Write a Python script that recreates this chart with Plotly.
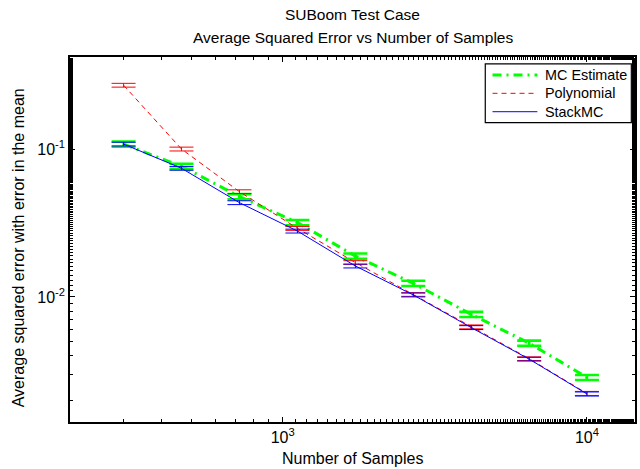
import plotly.graph_objects as go

# Number of samples at each evaluation point
samples = [300, 465, 721, 1118, 1733, 2687, 4166, 6459, 10000]

# Average squared error for each estimator
mc_err = [0.108, 0.0765, 0.0477, 0.0318, 0.0189, 0.01236, 0.00763, 0.00487, 0.00286]
poly_err = [0.27, 0.100, 0.0515, 0.0291, 0.0171, 0.0104, 0.00628, 0.00383, 0.00223]
stack_err = [0.108, 0.0741, 0.0434, 0.0279, 0.0162, 0.01032, 0.00621, 0.00380, 0.00221]

# Error in the mean (half-height of each error bar)
mc_sem = [0.0043, 0.0031, 0.0019, 0.0013, 0.00076, 0.0005, 0.0003, 0.0002, 0.00011]
poly_sem = [0.008, 0.003, 0.0015, 0.0009, 0.0005, 0.0003, 0.00019, 0.00011, 0.00007]
stack_sem = [0.0032, 0.0022, 0.0013, 0.00084, 0.00049, 0.00031, 0.00019, 0.00011, 0.00007]

series_names = ["MC Estimate", "Polynomial", "StackMC"]
series_vals = [mc_err, poly_err, stack_err]
series_sems = [mc_sem, poly_sem, stack_sem]
styles = [
    dict(color="#00ff00", width=3, dash="9px,5px,2px,5px", ebw=2.6),
    dict(color="#ff0000", width=1, dash="5px,4px", ebw=1.0),
    dict(color="#0000ff", width=1, dash="solid", ebw=1.0),
]

FONT_FAMILY = "Liberation Sans, Arial, Helvetica, sans-serif"
font = dict(family=FONT_FAMILY, size=16, color="black")
title_font = dict(family=FONT_FAMILY, size=15.5, color="black")

fig = go.Figure()
for name, vals, sem, st in zip(series_names, series_vals, series_sems, styles):
    # error bars with caps
    fig.add_trace(go.Scatter(
        x=samples, y=vals, mode="markers", showlegend=False,
        marker=dict(size=1, opacity=0, color=st["color"]),
        error_y=dict(type="data", array=sem, visible=True, color=st["color"],
                     thickness=st["ebw"], width=12),
        hoverinfo="skip",
    ))
    # connecting line
    fig.add_trace(go.Scatter(
        x=samples, y=vals, mode="lines", name=name, showlegend=False,
        line=dict(color=st["color"], width=st["width"], dash=st["dash"]),
    ))

axis_common = dict(
    type="log", showgrid=False, zeroline=False,
    showline=True, linecolor="black", linewidth=1.5, mirror="allticks",
    ticks="inside", ticklen=5, tickcolor="black", tickwidth=1,
    tickfont=font,
    minor=dict(ticks="inside", ticklen=3, tickcolor="black", tickwidth=1, showgrid=False),
)

fig.update_xaxes(
    range=[2.301, 4.158],
    tickvals=[1e3, 1e4], ticktext=["10<sup>3</sup>", "10<sup>4</sup>"],
    **axis_common,
)
fig.update_yaxes(
    range=[-2.845, -0.378],
    tickvals=[1e-2, 1e-1], ticktext=["10<sup>-2</sup>", "10<sup>-1</sup>"],
    **axis_common,
)

# Legend box in the upper-right corner of the axes
leg_x0, leg_x1, leg_y0, leg_y1 = 0.735, 0.9935, 0.820, 0.981
sample_x0, sample_x1, text_x = 0.7478, 0.8272, 0.8365
row_y = [0.9507, 0.9005, 0.8501]

shapes = [dict(type="rect", xref="paper", yref="paper",
               x0=leg_x0, x1=leg_x1, y0=leg_y0, y1=leg_y1,
               line=dict(color="black", width=1.2), fillcolor="white", layer="above")]
annotations = []
for name, st, ry in zip(series_names, styles, row_y):
    shapes.append(dict(type="line", xref="paper", yref="paper",
                       x0=sample_x0, x1=sample_x1, y0=ry, y1=ry, layer="above",
                       line=dict(color=st["color"], width=st["width"], dash=st["dash"])))
    annotations.append(dict(text=name, xref="paper", yref="paper",
                            x=text_x, y=ry, xanchor="left", yanchor="middle",
                            showarrow=False,
                            font=dict(family=FONT_FAMILY, size=14.4, color="black")))

annotations += [
    dict(text="SUBoom Test Case", xref="paper", yref="paper",
         x=0.5, y=1, yshift=43, xanchor="center", yanchor="middle",
         showarrow=False, font=title_font),
    dict(text="Average Squared Error vs Number of Samples", xref="paper", yref="paper",
         x=0.5, y=1, yshift=20, xanchor="center", yanchor="middle",
         showarrow=False, font=title_font),
    dict(text="Number of Samples", xref="paper", yref="paper",
         x=0.5, y=0, yshift=-36, xanchor="center", yanchor="middle",
         showarrow=False, font=font),
    dict(text="Average squared error with error in the mean", xref="paper", yref="paper",
         x=0, y=0.476, xshift=-52, xanchor="center", yanchor="middle",
         textangle=-90, showarrow=False, font=font),
]

fig.update_layout(
    width=640, height=469,
    margin=dict(l=70, r=3, t=57, b=47),
    paper_bgcolor="white", plot_bgcolor="white",
    font=font,
    showlegend=False,
    shapes=shapes,
    annotations=annotations,
)

fig.write_html("out.html")
